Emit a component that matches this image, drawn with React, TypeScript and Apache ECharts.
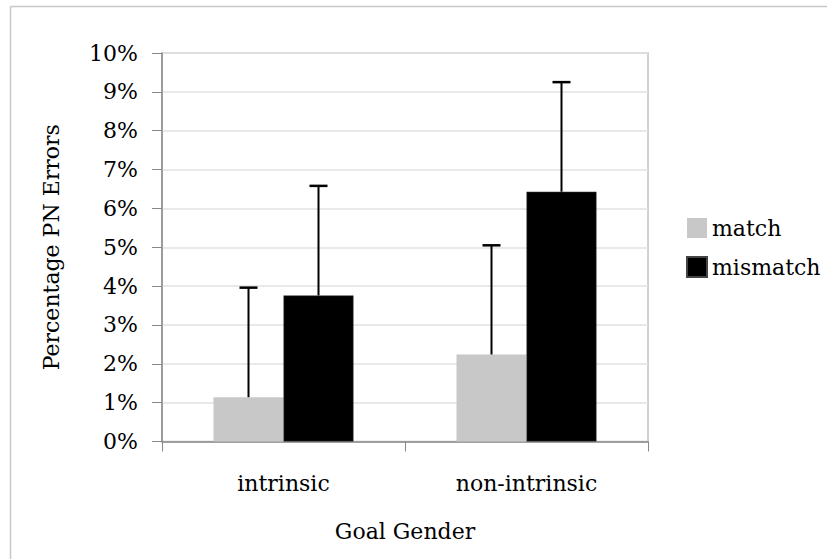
import React, { useEffect, useRef } from "react";
import * as echarts from "echarts";

const categories = ["intrinsic", "non-intrinsic"];
const matchValues = [1.14, 2.24];
const mismatchValues = [3.76, 6.43];
const matchErrTop = [3.96, 5.05];
const mismatchErrTop = [6.58, 9.25];
const yTicks = { min: 0, max: 10, interval: 1 };

const FONT = "'DejaVu Serif', 'Liberation Serif', serif";

export default function App() {
  const ref = useRef<HTMLDivElement>(null);
  useEffect(() => {
    if (!ref.current) return;
    const chart = echarts.init(ref.current, null, { renderer: "svg" });

    const errData: number[][] = [];
    categories.forEach((_, i) => {
      errData.push([i, matchValues[i], matchErrTop[i], 0]);
      errData.push([i, mismatchValues[i], mismatchErrTop[i], 1]);
    });

    chart.setOption({
      animation: false,
      backgroundColor: "#fff",
      graphic: [
        { type: "line", shape: { x1: 10.5, y1: 6.5, x2: 827, y2: 6.5 }, style: { stroke: "#c8c8c8", lineWidth: 1.5 } },
        { type: "line", shape: { x1: 10.5, y1: 6.5, x2: 10.5, y2: 559 }, style: { stroke: "#c8c8c8", lineWidth: 1.5 } },
      ],
      grid: { left: 162, right: 179, top: 53, bottom: 117.5, show: true, borderColor: "#c4c4c4", borderWidth: 1.5 },
      legend: {
        data: ["match", "mismatch"],
        orient: "vertical",
        left: 681,
        top: 212,
        itemWidth: 20,
        itemHeight: 20,
        itemGap: 17,
        icon: "rect",
        textStyle: { fontFamily: FONT, fontSize: 22, color: "#000" },
      },
      xAxis: {
        type: "category",
        data: categories,
        axisLine: { lineStyle: { color: "#888", width: 1.5 } },
        axisTick: { show: true, length: 10, lineStyle: { color: "#888" } },
        axisLabel: { fontFamily: FONT, fontSize: 22, color: "#000", margin: 31 },
        name: "Goal Gender",
        nameLocation: "middle",
        nameGap: 79,
        nameTextStyle: { fontFamily: FONT, fontSize: 22, color: "#000" },
      },
      yAxis: {
        type: "value",
        min: yTicks.min,
        max: yTicks.max,
        interval: yTicks.interval,
        axisLine: { show: true, lineStyle: { color: "#888", width: 1.5 } },
        axisTick: { show: true, length: 10, lineStyle: { color: "#888" } },
        axisLabel: { formatter: "{value}%", fontFamily: FONT, fontSize: 22, color: "#000", margin: 24 },
        splitLine: { lineStyle: { color: "#e2e2e2", width: 1.5 } },
        name: "Percentage PN Errors",
        nameLocation: "middle",
        nameGap: 100,
        nameTextStyle: { fontFamily: FONT, fontSize: 22, color: "#000" },
      },
      series: [
        {
          name: "match",
          type: "bar",
          data: matchValues,
          barWidth: 70,
          barGap: "0%",
          itemStyle: { color: "#c8c8c8" },
        },
        {
          name: "mismatch",
          type: "bar",
          data: mismatchValues,
          barWidth: 70,
          barGap: "0%",
          itemStyle: { color: "#000", borderColor: "#444", borderWidth: 0.5 },
        },
        {
          type: "custom",
          name: "err",
          data: errData,
          z: 10,
          renderItem: (params: any, api: any) => {
            const cat = api.value(0);
            const lo = api.value(1);
            const hi = api.value(2);
            const which = api.value(3);
            const off = which === 0 ? -35 : 35;
            const pLo = api.coord([cat, lo]);
            const pHi = api.coord([cat, hi]);
            const x = pLo[0] + off;
            const cap = 9;
            return {
              type: "group",
              children: [
                { type: "line", shape: { x1: x, y1: pLo[1], x2: x, y2: pHi[1] }, style: { stroke: "#000", lineWidth: 2 } },
                { type: "line", shape: { x1: x - cap, y1: pHi[1], x2: x + cap, y2: pHi[1] }, style: { stroke: "#000", lineWidth: 2.5 } },
              ],
            };
          },
        },
      ],
    });
    return () => chart.dispose();
  }, []);
  return <div ref={ref} style={{ position: "fixed", left: 0, top: 0, width: 827, height: 559 }} />;
}
